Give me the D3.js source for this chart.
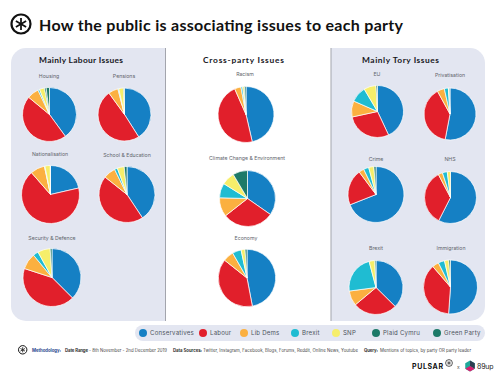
<!DOCTYPE html>
<html>
<head>
<meta charset="utf-8">
<script src="https://cdn.jsdelivr.net/npm/d3@7"></script>
<style>
  html, body { margin: 0; padding: 0; background: #fff; }
  text { font-family: "Inter", "Noto Sans", sans-serif; }
  .lato { font-family: "Lato", "Noto Sans", sans-serif; }
</style>
</head>
<body>
<div id="chart"></div>
<script>
const parties = ["Conservatives", "Labour", "Lib Dems", "Brexit", "SNP", "Plaid Cymru", "Green Party"];
const partyColors = ["#1580c4", "#e11f2b", "#fbb040", "#1fbcd2", "#f6ee6a", "#1d7a68", "#1d7a68"];

// shares of mentions, same order as parties
const housing = [40, 46, 7, 1, 3, 1, 2];
const pensions = [41, 49, 6, 0.5, 3, 0.5, 0];
const nationalisation = [21.4, 67.2, 8, 0.3, 3, 0, 0.1];
const schoolEducation = [40.7, 45, 7, 1.7, 4, 0, 1.6];
const securityDefence = [37.5, 42.5, 9, 3, 7, 0, 1];
const racism = [46.4, 47, 3.7, 1, 1, 0, 0.9];
const climate = [34.7, 29.7, 11, 8.5, 7.6, 8.5, 0];
const economy = [47, 38.7, 6, 5, 2.2, 0, 1.1];
const eu = [43, 28.6, 10, 9.9, 7.6, 0, 0.9];
const privatisation = [53, 39, 4.5, 2.5, 0.5, 0, 0.5];
const crime = [69, 20.8, 3, 3, 3, 0, 1.2];
const nhs = [57.5, 34.8, 2.7, 3, 2, 0, 0];
const brexit = [37.4, 26.5, 9, 23, 3.4, 0, 0.7];
const immigration = [51.4, 37.7, 4, 3.8, 2.6, 0, 1];

const w = 500, h = 380;
const panelFill = "#e3e6f1";

// issue name, values, pie centre, radius, label position
const pies = [
  { name: "Housing", values: housing, cx: 49.5, cy: 114.5, r: 27, lx: 49, ly: 78 },
  { name: "Pensions", values: pensions, cx: 124.5, cy: 114.5, r: 26.5, lx: 124, ly: 78 },
  { name: "Nationalisation", values: nationalisation, cx: 50.5, cy: 194.5, r: 29, lx: 50, ly: 156 },
  { name: "School & Education", values: schoolEducation, cx: 127, cy: 194.5, r: 28, lx: 127, ly: 156.5 },
  { name: "Security & Defence", values: securityDefence, cx: 52, cy: 277.5, r: 29, lx: 52, ly: 239.5 },
  { name: "Racism", values: racism, cx: 246, cy: 114.5, r: 28, lx: 245, ly: 76 },
  { name: "Climate Change & Environment", values: climate, cx: 247.5, cy: 198.5, r: 28, lx: 247, ly: 160 },
  { name: "Economy", values: economy, cx: 247, cy: 278, r: 28.7, lx: 246, ly: 239.5 },
  { name: "EU", values: eu, cx: 377.5, cy: 111.5, r: 26, lx: 377, ly: 76 },
  { name: "Privatisation", values: privatisation, cx: 450, cy: 114, r: 26, lx: 450, ly: 77 },
  { name: "Crime", values: crime, cx: 376, cy: 194.5, r: 28, lx: 376, ly: 161 },
  { name: "NHS", values: nhs, cx: 450.5, cy: 197.5, r: 26, lx: 450, ly: 161 },
  { name: "Brexit", values: brexit, cx: 376, cy: 287.5, r: 27, lx: 376, ly: 250 },
  { name: "Immigration", values: immigration, cx: 450.5, cy: 287, r: 27, lx: 451, ly: 250 }
];

const headings = [
  { text: "Mainly Labour Issues", x: 39, width: 84 },
  { text: "Cross-party Issues", x: 203, width: 81 },
  { text: "Mainly Tory Issues", x: 362, width: 77 }
];

const legendX = [143, 203, 244, 295, 336, 376, 437];

const footerParts = [
  { text: "Methodology:", x: 32, width: 29, bold: true, fill: "#2b4a8f" },
  { text: "Date Range", x: 65, width: 23, bold: true, fill: "#333" },
  { text: "- 8th November - 2nd December 2019", x: 89, width: 78, bold: false, fill: "#444" },
  { text: "Data Sources:", x: 173, width: 29, bold: true, fill: "#333" },
  { text: "Twitter, Instagram, Facebook, Blogs, Forums, Reddit, Online News, Youtube", x: 203, width: 155, bold: false, fill: "#444" },
  { text: "Query:", x: 364, width: 14, bold: true, fill: "#333" },
  { text: "Mentions of topics, by party OR party leader", x: 380, width: 91, bold: false, fill: "#444" }
];

const svg = d3.select("#chart").append("svg")
  .attr("width", w).attr("height", h)
  .style("display", "block");

// panels with rounded outer corners only
const leftPanel = d3.path();
leftPanel.moveTo(165, 48);
leftPanel.lineTo(26, 48);
leftPanel.arcTo(11, 48, 11, 63, 15);
leftPanel.lineTo(11, 306);
leftPanel.arcTo(11, 321, 26, 321, 15);
leftPanel.lineTo(165, 321);
leftPanel.closePath();
svg.append("path").attr("d", leftPanel.toString()).attr("fill", panelFill);

const rightPanel = d3.path();
rightPanel.moveTo(331, 48);
rightPanel.lineTo(470, 48);
rightPanel.arcTo(485, 48, 485, 63, 15);
rightPanel.lineTo(485, 306);
rightPanel.arcTo(485, 321, 470, 321, 15);
rightPanel.lineTo(331, 321);
rightPanel.closePath();
svg.append("path").attr("d", rightPanel.toString()).attr("fill", panelFill);

svg.selectAll(".divider").data([165.5, 331]).enter()
  .append("line").attr("class", "divider")
  .attr("x1", (d) => d).attr("x2", (d) => d)
  .attr("y1", 48).attr("y2", 321)
  .attr("stroke", "#a3a5ad").attr("stroke-width", 1);

// title and logo
function drawBadge(x, y, r, sw) {
  const g = svg.append("g").attr("transform", `translate(${x},${y})`);
  g.append("circle").attr("r", r).attr("fill", "none").attr("stroke", "#111").attr("stroke-width", sw);
  d3.range(6).forEach((i) => {
    const a = i * Math.PI / 3 + Math.PI / 6;
    g.append("line").attr("x1", 0).attr("y1", 0)
      .attr("x2", Math.cos(a) * r * 0.62).attr("y2", Math.sin(a) * r * 0.62)
      .attr("stroke", "#111").attr("stroke-width", sw * 0.8);
  });
}
drawBadge(21, 24, 9.5, 2.2);

svg.append("text").attr("class", "lato").attr("x", 39).attr("y", 30.5)
  .attr("font-size", 16).attr("font-weight", 700)
  .attr("textLength", 364).attr("lengthAdjust", "spacing")
  .attr("fill", "#111")
  .text("How the public is associating issues to each party");

svg.selectAll(".heading").data(headings).enter()
  .append("text").attr("class", "heading lato")
  .attr("x", (d) => d.x).attr("y", 63)
  .attr("textLength", (d) => d.width).attr("lengthAdjust", "spacing")
  .attr("font-size", 8.4).attr("font-weight", 700)
  .attr("fill", "#16161c")
  .text((d) => d.text);

// pies
const pie = d3.pie().sort(null);
const arc = d3.arc().innerRadius(0);

const pieGroup = svg.selectAll(".issue").data(pies).enter()
  .append("g").attr("class", "issue");

pieGroup.append("text")
  .attr("x", (d) => d.lx).attr("y", (d) => d.ly)
  .attr("text-anchor", "middle")
  .attr("font-size", 5.2)
  .attr("fill", "#62656c")
  .text((d) => d.name);

pieGroup.append("g")
  .attr("transform", (d) => `translate(${d.cx},${d.cy})`)
  .each(function (d) {
    d3.select(this).selectAll("path")
      .data(pie(d.values).filter((s) => s.value > 0))
      .enter().append("path")
      .attr("d", (s) => arc.outerRadius(d.r)(s))
      .attr("fill", (s) => partyColors[s.index])
      .attr("stroke", "#fff").attr("stroke-width", 0.7).attr("stroke-linejoin", "round");
  });

// legend
svg.append("rect")
  .attr("x", 135).attr("y", 325).attr("width", 350).attr("height", 16)
  .attr("rx", 8).attr("fill", panelFill);

const legendItem = svg.selectAll(".legend-item").data(parties).enter()
  .append("g").attr("class", "legend-item")
  .attr("transform", (d, i) => `translate(${legendX[i]},333)`);

legendItem.append("circle").attr("r", 4)
  .attr("fill", (d, i) => partyColors[i]);

legendItem.append("text")
  .attr("x", 7).attr("y", 2.2)
  .attr("font-size", 6.1).attr("letter-spacing", 0.2)
  .attr("fill", "#4d5460")
  .text((d) => d);

// footer
drawBadge(22.7, 349.8, 4.2, 1);

svg.selectAll(".footer-part").data(footerParts).enter()
  .append("text").attr("class", "footer-part")
  .attr("x", (d) => d.x).attr("y", 352)
  .attr("textLength", (d) => d.width).attr("lengthAdjust", "spacing")
  .attr("font-size", 4.3)
  .attr("font-weight", (d) => (d.bold ? 700 : 400))
  .attr("fill", (d) => d.fill)
  .text((d) => d.text);

svg.append("text").attr("x", 412).attr("y", 369)
  .attr("textLength", 31).attr("lengthAdjust", "spacing")
  .attr("font-size", 7).attr("font-weight", 700)
  .attr("fill", "#111").text("PULSAR");
drawBadge(449, 363, 3.4, 0.7);
svg.append("text").attr("x", 457).attr("y", 369)
  .attr("font-size", 5).attr("fill", "#555").text("x");

// 89up hexagon
const hexagon = d3.range(6).map((i) => {
  const a = i * Math.PI / 3 + Math.PI / 6;
  return [470 + Math.cos(a) * 5.5, 366 + Math.sin(a) * 5.5];
});
svg.append("path").attr("d", d3.line()(hexagon) + "Z").attr("fill", "#1fa89a");
svg.append("path").attr("d", d3.line()([[470, 366], hexagon[4], hexagon[5], hexagon[0]]) + "Z").attr("fill", "#2c3e50");
svg.append("path").attr("d", d3.line()([[470, 366], hexagon[0], hexagon[1], hexagon[2]]) + "Z").attr("fill", "#d8206f");
svg.append("text").attr("x", 477).attr("y", 369)
  .attr("font-size", 7).attr("letter-spacing", -0.2).attr("fill", "#222").text("89up");
</script>
</body>
</html>
